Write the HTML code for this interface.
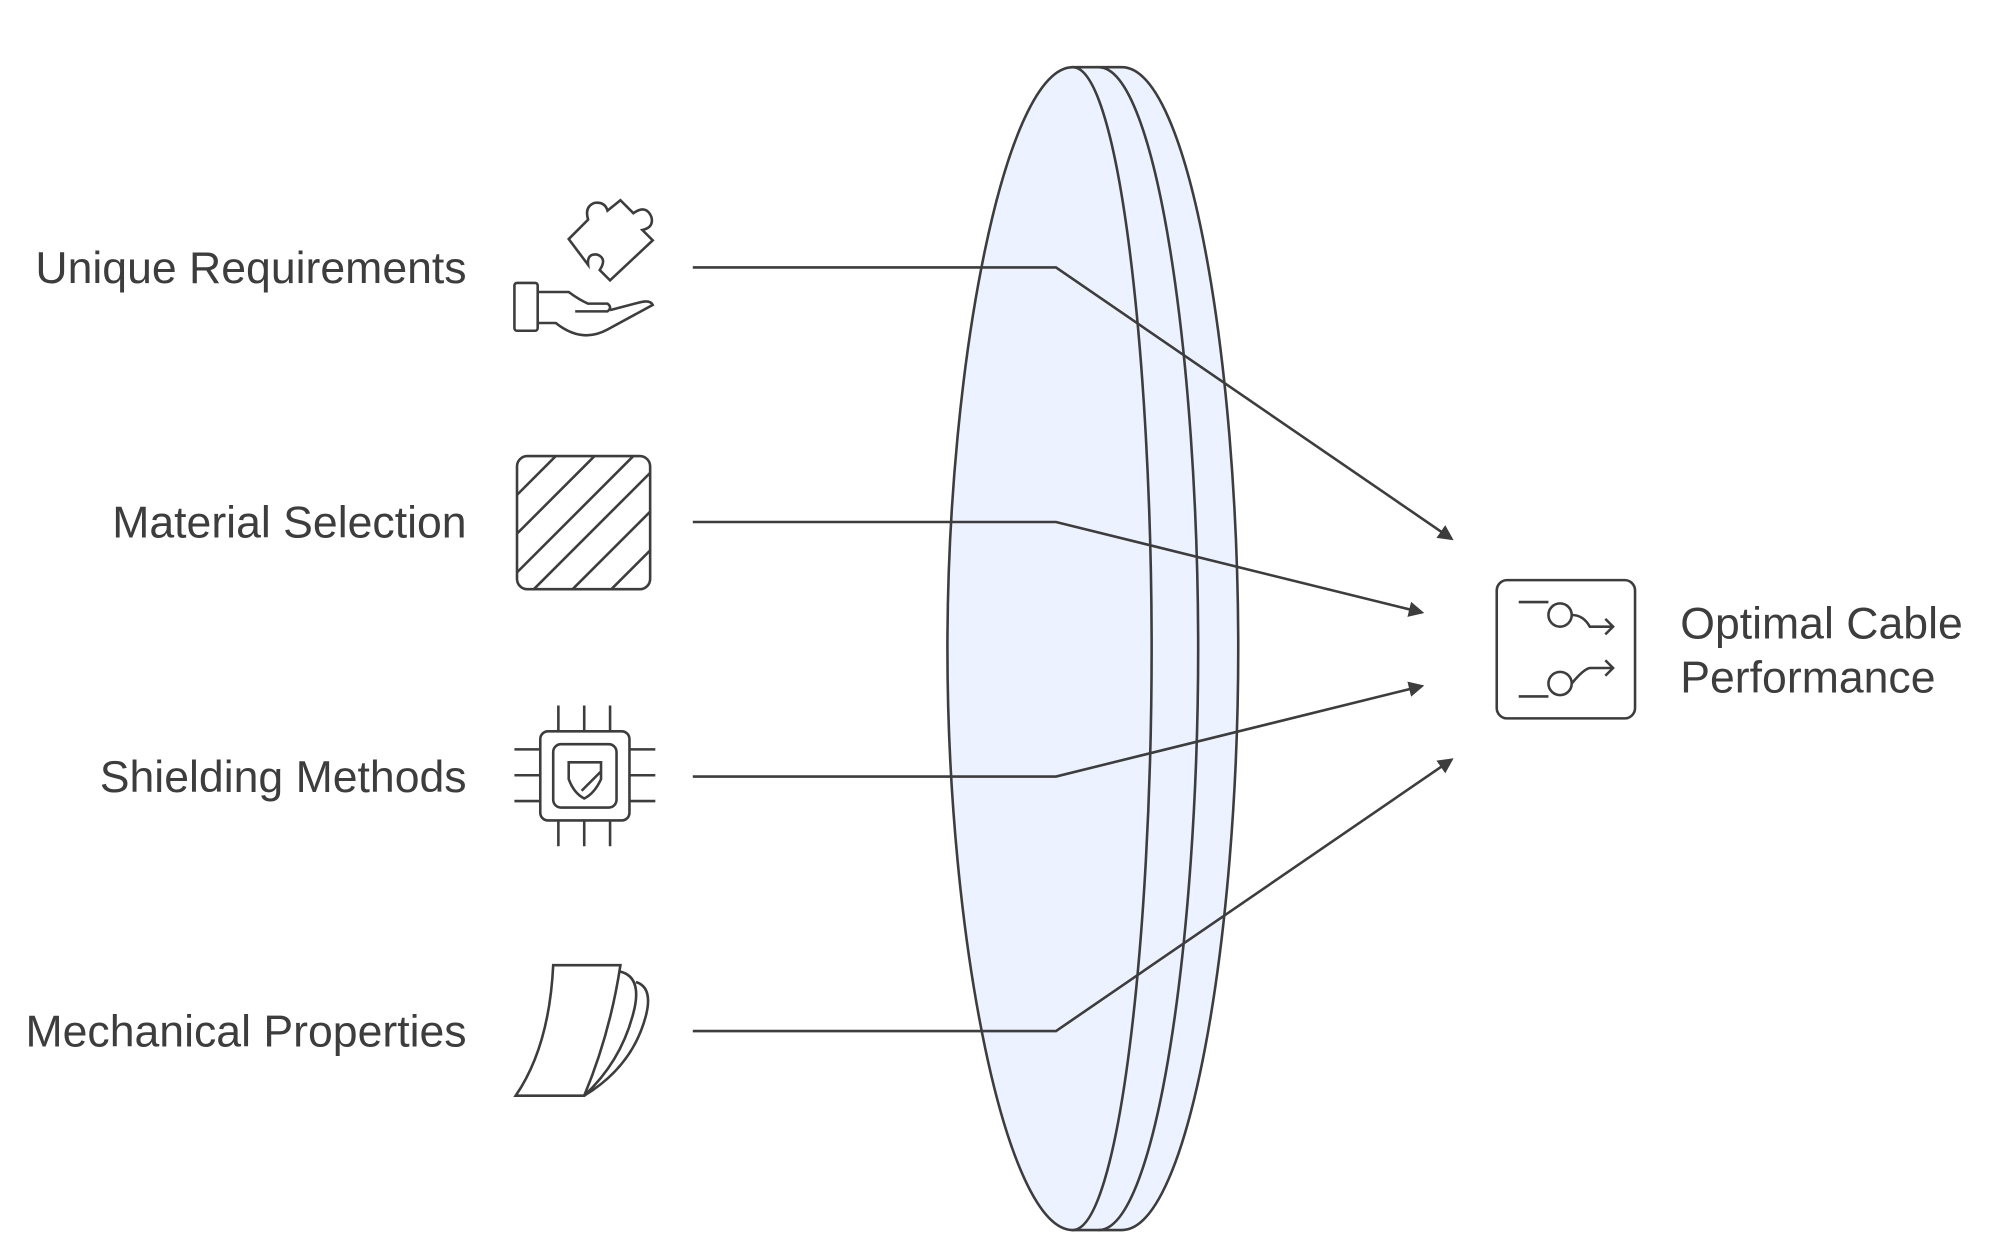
<!DOCTYPE html>
<html><head><meta charset="utf-8"><style>
html,body{margin:0;padding:0;background:#fff;}
svg{display:block}
text{font-family:"Liberation Sans",sans-serif;fill:#3d3d3d;font-size:34.5px}
</style></head><body>
<svg width="2006" height="1252" viewBox="0 0 1552 969" preserveAspectRatio="none" xmlns="http://www.w3.org/2000/svg">
<defs><marker id="a" markerWidth="12" markerHeight="12" refX="10" refY="6" orient="auto" markerUnits="userSpaceOnUse"><path d="M0,0 L12,6 L0,12 z" fill="#3d3d3d"/></marker></defs>
<g fill="#ecf2ff" stroke="#3d3d3d" stroke-width="2">
<path d="M830,52 L868,52 C920,52 958,280 958,502 C958,724 920,952 868,952 L830,952 Z"/>
<path d="M850,52 C895,52 927,280 927,502 C927,724 895,952 850,952" fill="none"/>
<path d="M830,52 C778,52 733,280 733,502 C733,724 778,952 830,952 C866,952 891,724 891,502 C891,280 866,52 830,52 Z"/>
</g>
<g fill="none" stroke="#3d3d3d" stroke-width="2">
<polyline points="536,207 817,207 1123,417" marker-end="url(#a)"/>
<polyline points="536,404 817,404 1100,474" marker-end="url(#a)"/>
<polyline points="536,601 817,601 1100,531" marker-end="url(#a)"/>
<polyline points="536,798 817,798 1123,588" marker-end="url(#a)"/>
<rect x="398" y="219" width="18" height="37" rx="2"/>
<path d="M416,226 L440,226 Q448,232 455,235 L470,235 Q474,238 470,241 L445,241 M416,250 L430,250 Q450,266 470,255 L505,236 Q503,232 495,234 L472,240"/>
<path d="M440,185 L455,170 Q452,160 460,157 Q468,156 470,163 L480,155 L490,165 Q500,158 504,168 Q506,176 497,178 L505,186 L472,217 L464,209 Q470,200 462,197 Q454,196 455,205 Z"/>
<rect x="400" y="353" width="103" height="103" rx="8"/>
<path d="M400,383 L430,353 M400,413 L460,353 M400,443 L490,353 M413,456 L503,366 M443,456 L503,396 M473,456 L503,426"/>
<rect x="418" y="566" width="69" height="69" rx="6"/>
<rect x="428" y="576" width="49" height="49" rx="6"/>
<path d="M440,590 L465,590 L465,603 Q460,614 452,618 Q444,614 440,603 Z M450,612 L465,597"/>
<path d="M432,546 V566 M452,546 V566 M472,546 V566 M432,635 V655 M452,635 V655 M472,635 V655 M398,580 H418 M398,600 H418 M398,620 H418 M487,580 H507 M487,600 H507 M487,620 H507"/>
<path d="M428,747 L480,747 Q472,800 452,848 L399,848 Q425,810 428,747 Z"/>
<path d="M480,752 Q496,756 491,780 Q482,820 452,848"/>
<path d="M492,760 Q505,764 500,785 Q490,825 452,848"/>
<rect x="1158" y="449" width="107" height="107" rx="8"/>
<path d="M1175,466 L1198,466 M1216,476 Q1225,476 1230,485 L1248,485 M1242,479 L1248,485 L1242,491"/>
<circle cx="1207" cy="476" r="9"/>
<path d="M1175,539 L1198,539 M1216,529 Q1225,518 1230,517 L1248,517 M1242,511 L1248,517 L1242,523"/>
<circle cx="1207" cy="529" r="9"/>
</g>
<text x="361" y="219" text-anchor="end">Unique Requirements</text>
<text x="361" y="416" text-anchor="end">Material Selection</text>
<text x="361" y="613" text-anchor="end">Shielding Methods</text>
<text x="361" y="810" text-anchor="end">Mechanical Properties</text>
<text x="1300" y="494">Optimal Cable</text>
<text x="1300" y="536">Performance</text>
</svg>
</body></html>
